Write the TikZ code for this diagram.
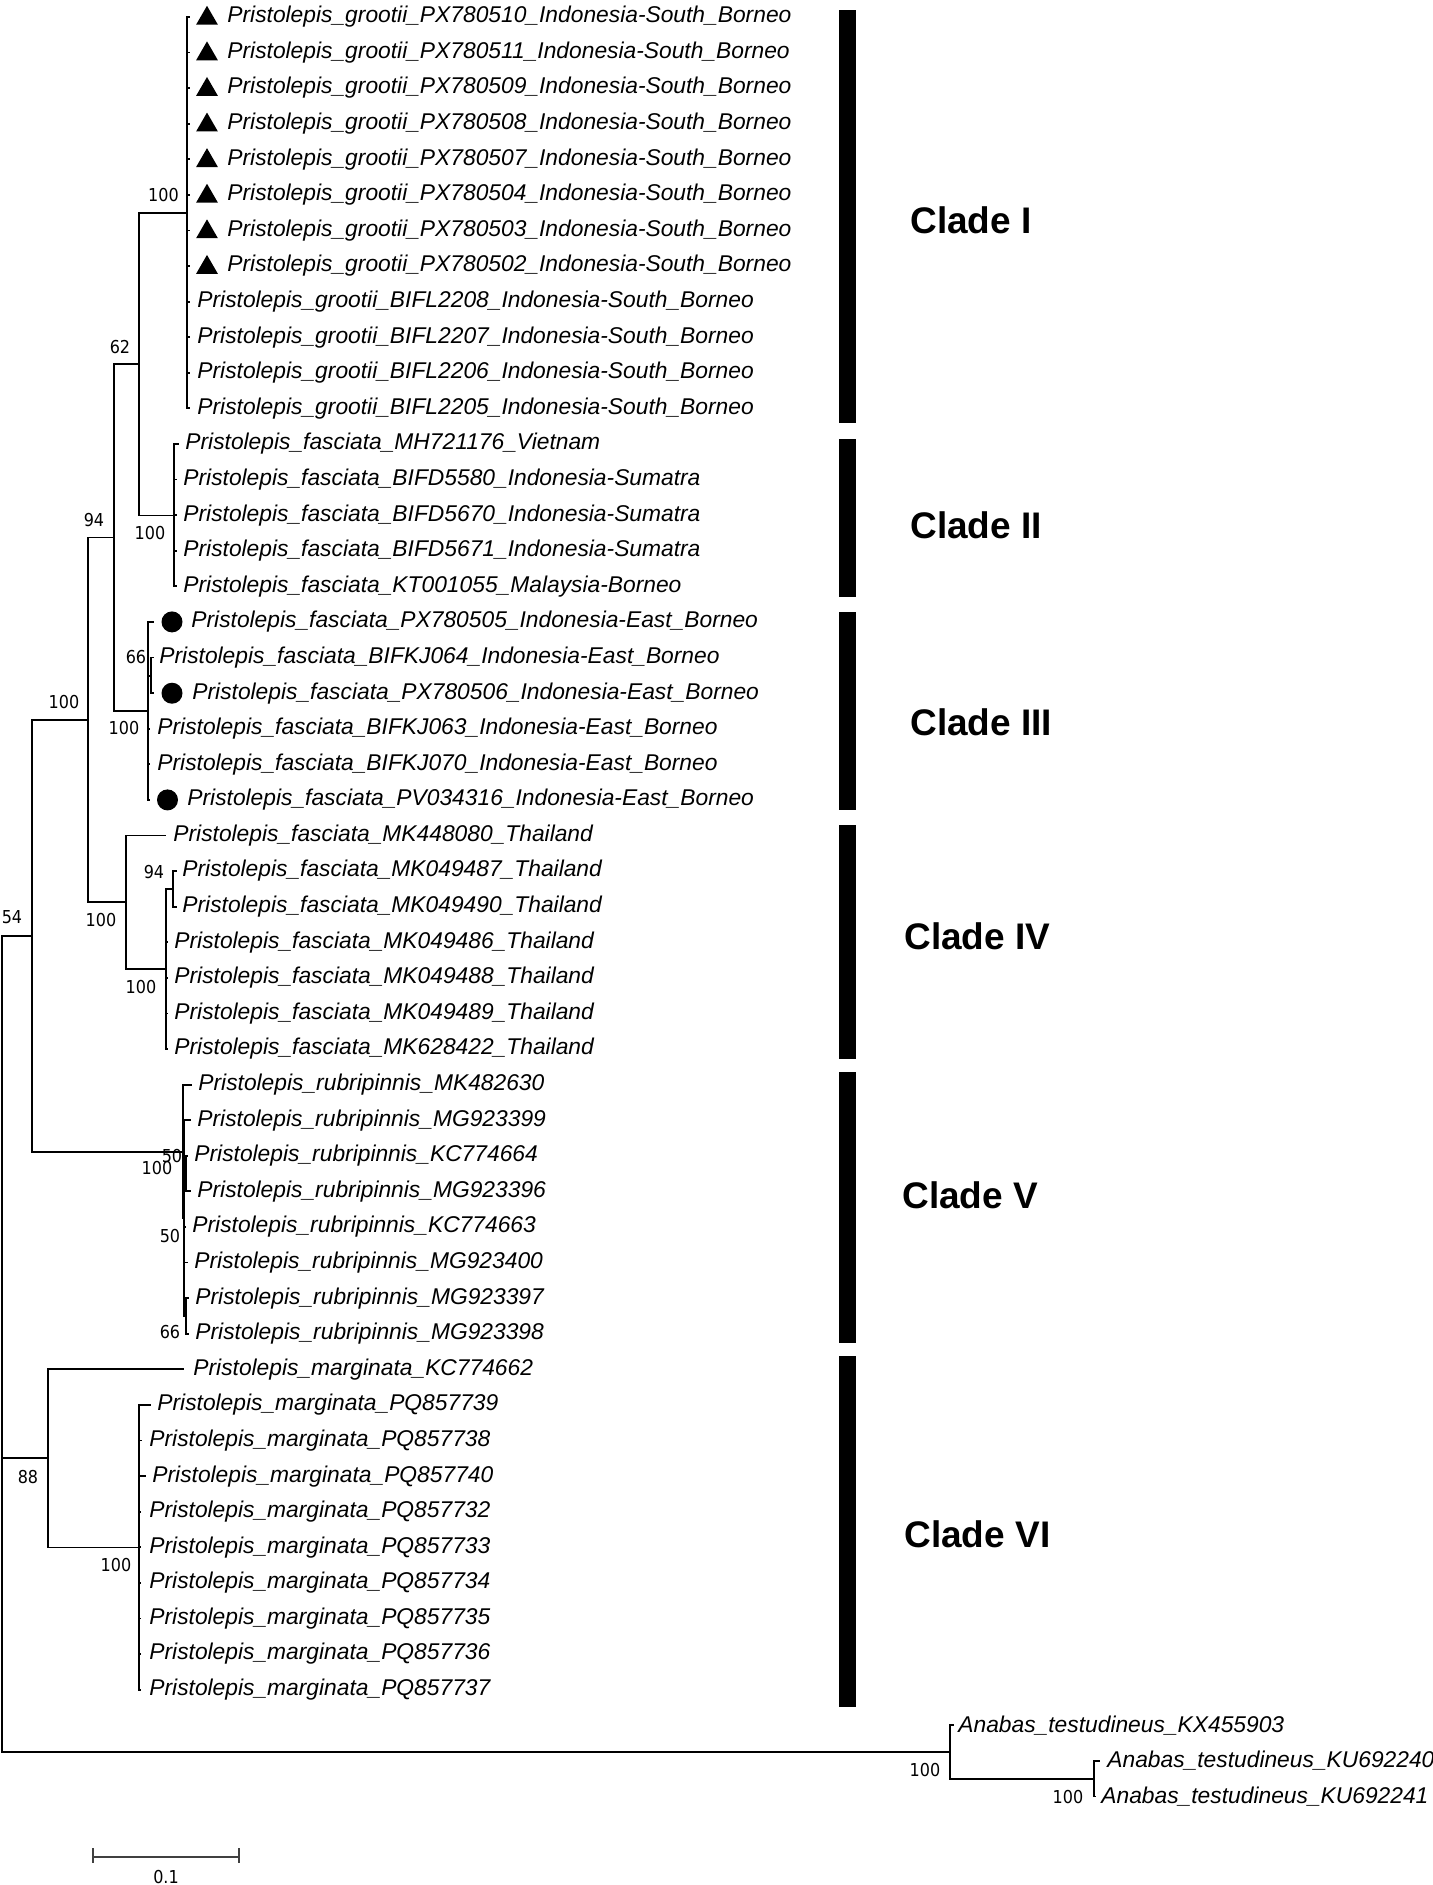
\documentclass[tikz,border=0pt]{standalone}
\usepackage{fontspec}
\setmainfont{Liberation Sans}
\newfontfamily\bootfont[FakeStretch=0.9]{DejaVu Sans}
\usetikzlibrary{positioning,shapes.geometric}

\tikzset{
  branch/.style={line width=0.9pt, line cap=rect},
  taxon/.style={anchor=west, inner sep=0pt, font=\fontsize{11.4}{12}\selectfont\itshape},
  boot/.style={inner sep=0pt, font=\bootfont\fontsize{8.9}{10}\selectfont},
  cladename/.style={anchor=west, inner sep=0pt, font=\fontsize{18.5}{20}\selectfont\bfseries},
  tripin/.style={regular polygon, regular polygon sides=3, fill=black, inner sep=0pt, minimum size=12.6pt},
  dotpin/.style={circle, fill=black, inner sep=0pt, minimum size=10.5pt}
}

\begin{document}
\begin{tikzpicture}[x=0.5pt,y=-0.5pt]
    \useasboundingbox (0,0) rectangle (1433,1885);

    % internal nodes
    \coordinate (root) at (2,1344);
    \coordinate (n54) at (32,935.7);
    \coordinate (n100a) at (88,719.8);
    \coordinate (n94) at (114,537.4);
    \coordinate (n62) at (139,364.1);
    \coordinate (c1) at (187,212.8);
    \coordinate (c2) at (174,515.4);
    \coordinate (c3) at (148,710.8);
    \coordinate (n66) at (151,675.7);
    \coordinate (c4) at (126,902.1);
    \coordinate (c4in) at (166,969.3);
    \coordinate (n94b) at (173,889.1);
    \coordinate (c5) at (183,1151.6);
    \coordinate (c5z) at (184,1217.8);
    \coordinate (c5a) at (186,1173.7);
    \coordinate (c5c) at (186,1316);
    \coordinate (n88) at (48,1458.2);
    \coordinate (c6) at (139,1547.4);
    \coordinate (og) at (950,1751.8);
    \coordinate (ogin) at (1094,1778.9);

    % backbone
    \draw[branch] (root) |- (n54);
    \draw[branch] (root) |- (n88);
    \draw[branch] (root) |- (og);
    \draw[branch] (n54) |- (n100a);
    \draw[branch] (n54) |- (c5);
    \draw[branch] (n100a) |- (n94);
    \draw[branch] (n100a) |- (c4);
    \draw[branch] (n94) |- (n62);
    \draw[branch] (n94) |- (c3);
    \draw[branch] (n62) |- (c1);
    \draw[branch] (n62) |- (c2);
    \draw[branch] (c3) |- (n66);
    \draw[branch] (c4) |- (c4in);
    \draw[branch] (c4in) |- (n94b);
    \draw[branch] (c5) |- (c5z);
    \draw[branch] (c5z) |- (c5a);
    \draw[branch] (c5z) |- (c5c);
    \draw[branch] (n88) |- (c6);
    \draw[branch] (og) |- (ogin);

    % clade I
    \foreach \i/\acc in {1/PX780510,2/PX780511,3/PX780509,4/PX780508,5/PX780507,6/PX780504,7/PX780503,8/PX780502}
    {
        \coordinate (t\i) at (189,{16.9+35.59*(\i-1)});
        \draw[branch] (c1) |- (t\i);
        \node[tripin] (m\i) at (207,{18.4+35.59*(\i-1)}) {};
        \node[taxon] (l\i) at (227,{16.9+35.59*(\i-1)}) {Pristolepis\_grootii\_\acc\_Indonesia-South\_Borneo};
    }
    \foreach \i/\acc in {9/BIFL2208,10/BIFL2207,11/BIFL2206,12/BIFL2205}
    {
        \coordinate (t\i) at (189,{16.9+35.59*(\i-1)});
        \draw[branch] (c1) |- (t\i);
        \node[taxon] (l\i) at (197,{16.9+35.59*(\i-1)}) {Pristolepis\_grootii\_\acc\_Indonesia-South\_Borneo};
    }

    % clade II
    \foreach \i/\acc/\tp/\tx in {13/MH721176\_Vietnam/178/185,14/BIFD5580\_Indonesia-Sumatra/176/183,15/BIFD5670\_Indonesia-Sumatra/176/183,16/BIFD5671\_Indonesia-Sumatra/176/183,17/KT001055\_Malaysia-Borneo/176/183}
    {
        \coordinate (t\i) at (\tp,{16.9+35.59*(\i-1)});
        \draw[branch] (c2) |- (t\i);
        \node[taxon] (l\i) at (\tx,{16.9+35.59*(\i-1)}) {Pristolepis\_fasciata\_\acc};
    }

    % clade III
    \foreach \i/\acc/\up/\tp/\tx in {18/PX780505/c3/153/191,19/BIFKJ064/n66/153/159,20/PX780506/n66/153/192,21/BIFKJ063/c3/149/157,22/BIFKJ070/c3/149/157,23/PV034316/c3/149/187}
    {
        \coordinate (t\i) at (\tp,{16.9+35.59*(\i-1)});
        \draw[branch] (\up) |- (t\i);
        \node[taxon] (l\i) at (\tx,{16.9+35.59*(\i-1)}) {Pristolepis\_fasciata\_\acc\_Indonesia-East\_Borneo};
    }
    \node[dotpin] (m18) at (172,621.9) {};
    \node[dotpin] (m20) at (172,693.2) {};
    \node[dotpin] (m23) at (167.5,799.9) {};

    % clade IV
    \foreach \i/\acc/\up/\tp/\tx in {24/MK448080/c4/165/173,25/MK049487/n94b/176/182,26/MK049490/n94b/176/182,27/MK049486/c4in/167/174,28/MK049488/c4in/167/174,29/MK049489/c4in/167/174,30/MK628422/c4in/167/174}
    {
        \coordinate (t\i) at (\tp,{16.9+35.59*(\i-1)});
        \draw[branch] (\up) |- (t\i);
        \node[taxon] (l\i) at (\tx,{16.9+35.59*(\i-1)}) {Pristolepis\_fasciata\_\acc\_Thailand};
    }

    % clade V
    \foreach \i/\acc/\up/\tx in {31/MK482630/c5/198,32/MG923399/c5z/197,33/KC774664/c5a/194,34/MG923396/c5a/197,35/KC774663/c5z/192,36/MG923400/c5z/194,37/MG923397/c5c/195,38/MG923398/c5c/195}
    {
        \coordinate (t\i) at ({\tx-7},{16.9+35.59*(\i-1)});
        \draw[branch] (\up) |- (t\i);
        \node[taxon] (l\i) at (\tx,{16.9+35.59*(\i-1)}) {Pristolepis\_rubripinnis\_\acc};
    }

    % clade VI
    \foreach \i/\acc/\up/\tp/\tx in {39/KC774662/n88/183/193,40/PQ857739/c6/150/157,41/PQ857738/c6/141/149,42/PQ857740/c6/145/152,43/PQ857732/c6/140/149,44/PQ857733/c6/140/149,45/PQ857734/c6/140/149,46/PQ857735/c6/140/149,47/PQ857736/c6/140/149,48/PQ857737/c6/140/149}
    {
        \coordinate (t\i) at (\tp,{16.9+35.59*(\i-1)});
        \draw[branch] (\up) |- (t\i);
        \node[taxon] (l\i) at (\tx,{16.9+35.59*(\i-1)}) {Pristolepis\_marginata\_\acc};
    }

    % outgroup
    \foreach \i/\acc/\up/\tp/\tx in {49/KX455903/og/953/958,50/KU692240/ogin/1099/1107,51/KU692241/ogin/1095/1101}
    {
        \coordinate (t\i) at (\tp,{16.9+35.59*(\i-1)});
        \draw[branch] (\up) |- (t\i);
        \node[taxon] (l\i) at (\tx,{16.9+35.59*(\i-1)}) {Anabas\_testudineus\_\acc};
    }

    % bootstrap values
    \node[boot] (b1) at (163.5,195) {100};
    \node[boot] (b2) at (120,347) {62};
    \node[boot] (b3) at (150,533) {100};
    \node[boot] (b4) at (94,520) {94};
    \node[boot] (b5) at (136,657) {66};
    \node[boot] (b6) at (124,728) {100};
    \node[boot] (b7) at (64,702) {100};
    \node[boot] (b8) at (12,917) {54};
    \node[boot] (b9) at (101,920) {100};
    \node[boot] (b10) at (154,872) {94};
    \node[boot] (b11) at (141,987) {100};
    \node[boot] (b12) at (172,1156) {50};
    \node[boot] (b13) at (157,1168) {100};
    \node[boot] (b14) at (170,1236) {50};
    \node[boot] (b15) at (170,1332) {66};
    \node[boot] (b16) at (28,1477) {88};
    \node[boot] (b17) at (116,1565) {100};
    \node[boot] (b18) at (925,1770) {100};
    \node[boot] (b19) at (1068,1797) {100};

    % clade bars
    \fill (839,10) rectangle (856,423);
    \fill (839,439) rectangle (856,597);
    \fill (839,612) rectangle (856,810);
    \fill (839,825) rectangle (856,1059);
    \fill (839,1072) rectangle (856,1343);
    \fill (839,1356) rectangle (856,1707);
    \node[cladename] (k1) at (910,220) {Clade I};
    \node[cladename] (k2) at (910,525) {Clade II};
    \node[cladename] (k3) at (910,722.5) {Clade III};
    \node[cladename] (k4) at (904,936.5) {Clade IV};
    \node[cladename] (k5) at (902,1195) {Clade V};
    \node[cladename] (k6) at (904,1534) {Clade VI};

    % scale bar
    \coordinate (sbl) at (93,1857);
    \coordinate (sbr) at (239,1857);
    \draw[line width=0.8pt, black!75] (sbl) -- (sbr);
    \draw[line width=0.8pt, black!75] (sbl) +(0,-9) -- +(0,6);
    \draw[line width=0.8pt, black!75] (sbr) +(0,-9) -- +(0,6);
    \node[boot] (sblab) at (166,1877) {0.1};
\end{tikzpicture}
\end{document}
